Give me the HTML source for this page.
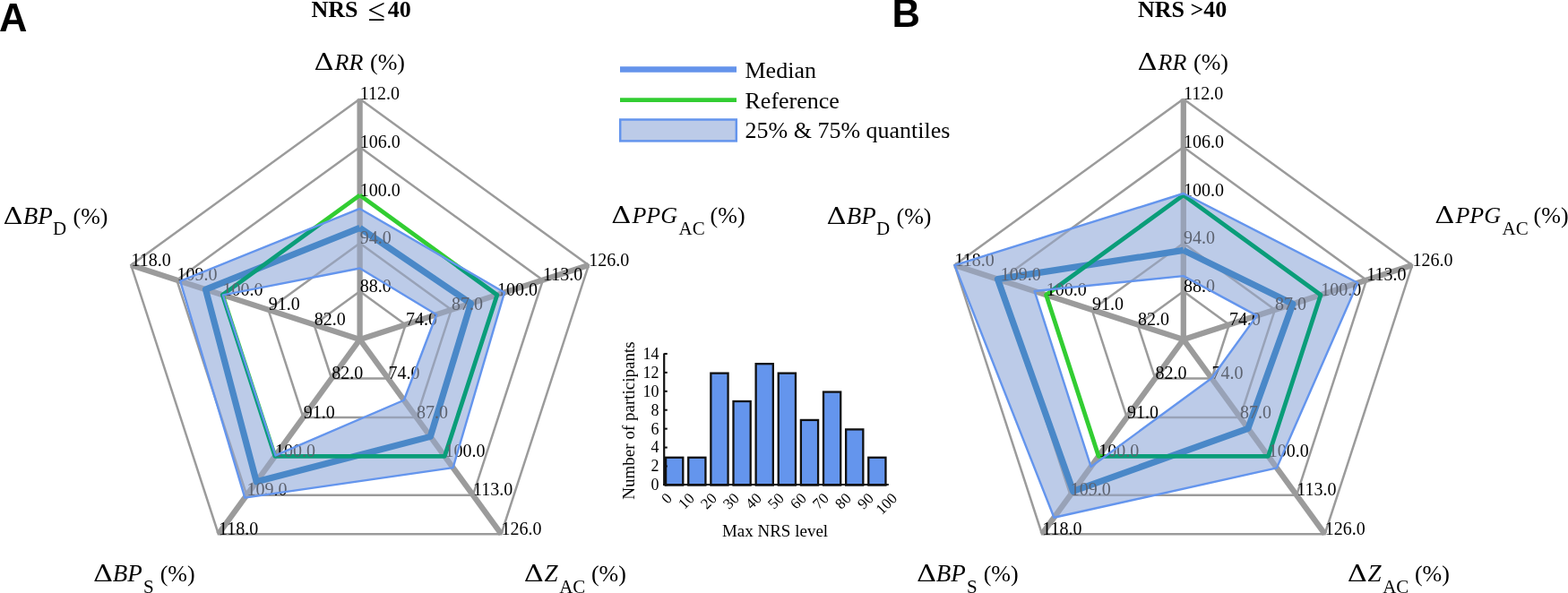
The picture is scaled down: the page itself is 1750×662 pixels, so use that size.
<!DOCTYPE html><html><head><meta charset="utf-8"><title>Figure</title><style>html,body{margin:0;padding:0;background:#fff;overflow:hidden}svg{display:block}</style></head><body>
<svg width="1750" height="662" viewBox="0 0 1750 662" font-family="'Liberation Serif', serif" fill="#000">
<rect width="1750" height="662" fill="#fff"/>
<defs><clipPath id="clipA"><path clip-rule="evenodd" d="M401.60 232.94 L562.99 326.56 L505.60 522.15 L273.29 555.60 L201.14 313.87 Z M401.60 299.52 L487.15 351.20 L450.84 446.77 L307.54 508.46 L248.90 329.38 Z"/></clipPath></defs>
<polyline points="401.60,325.30 452.67,362.41 433.16,422.44 370.04,422.44 350.53,362.41 401.60,325.30" fill="none" stroke="#9b9b9b" stroke-width="2.5" stroke-linejoin="miter"/>
<polyline points="401.60,271.60 503.74,345.81 464.73,465.89 338.47,465.89 299.46,345.81 401.60,271.60" fill="none" stroke="#9b9b9b" stroke-width="2.5" stroke-linejoin="miter"/>
<polyline points="401.60,217.90 554.82,329.22 496.29,509.33 306.91,509.33 248.38,329.22 401.60,217.90" fill="none" stroke="#9b9b9b" stroke-width="2.5" stroke-linejoin="miter"/>
<polyline points="401.60,164.20 605.89,312.62 527.86,552.78 275.34,552.78 197.31,312.62 401.60,164.20" fill="none" stroke="#9b9b9b" stroke-width="2.5" stroke-linejoin="miter"/>
<polyline points="401.60,110.50 656.96,296.03 559.42,596.22 243.78,596.22 146.24,296.03 401.60,110.50" fill="none" stroke="#9b9b9b" stroke-width="2.5" stroke-linejoin="miter"/>
<line x1="401.60" y1="379.00" x2="401.60" y2="110.50" stroke="#9b9b9b" stroke-width="6.3"/>
<line x1="401.60" y1="379.00" x2="656.96" y2="296.03" stroke="#9b9b9b" stroke-width="6.3"/>
<line x1="401.60" y1="379.00" x2="559.42" y2="596.22" stroke="#9b9b9b" stroke-width="6.3"/>
<line x1="401.60" y1="379.00" x2="243.78" y2="596.22" stroke="#9b9b9b" stroke-width="6.3"/>
<line x1="401.60" y1="379.00" x2="146.24" y2="296.03" stroke="#9b9b9b" stroke-width="6.3"/>
<polyline points="401.60,254.42 525.45,338.76 480.35,487.39 286.23,537.79 229.49,323.08 401.60,254.42" fill="none" stroke="#4a88c8" stroke-width="7.2" stroke-linejoin="round"/>
<polyline points="401.60,217.90 554.82,329.22 496.29,509.33 306.91,509.33 248.38,329.22 401.60,217.90" fill="none" stroke="#32cd32" stroke-width="4.8" stroke-linejoin="round"/>
<g font-size="20" fill="#000">
<text x="401.8" y="325.9">88.0</text>
<text x="401.8" y="272.2">94.0</text>
<text x="401.8" y="218.5">100.0</text>
<text x="401.8" y="164.8">106.0</text>
<text x="401.8" y="111.1">112.0</text>
<text x="452.9" y="363.0">74.0</text>
<text x="503.9" y="346.4">87.0</text>
<text x="555.0" y="329.8">100.0</text>
<text x="606.1" y="313.2">113.0</text>
<text x="657.2" y="296.6">126.0</text>
<text x="433.4" y="423.0">74.0</text>
<text x="464.9" y="466.5">87.0</text>
<text x="496.5" y="509.9">100.0</text>
<text x="528.1" y="553.4">113.0</text>
<text x="559.6" y="596.8">126.0</text>
<text x="370.2" y="423.0">82.0</text>
<text x="338.7" y="466.5">91.0</text>
<text x="307.1" y="509.9">100.0</text>
<text x="275.5" y="553.4">109.0</text>
<text x="244.0" y="596.8">118.0</text>
<text x="350.7" y="363.0">82.0</text>
<text x="299.7" y="346.4">91.0</text>
<text x="248.6" y="329.8">100.0</text>
<text x="197.5" y="313.2">109.0</text>
<text x="146.4" y="296.6">118.0</text>
</g>
<g clip-path="url(#clipA)">
<rect x="-48" y="0" width="900" height="662" fill="#bccbe8"/>
<polyline points="401.60,325.30 452.67,362.41 433.16,422.44 370.04,422.44 350.53,362.41 401.60,325.30" fill="none" stroke="#98a2b7" stroke-width="2.5" stroke-linejoin="miter"/>
<polyline points="401.60,271.60 503.74,345.81 464.73,465.89 338.47,465.89 299.46,345.81 401.60,271.60" fill="none" stroke="#98a2b7" stroke-width="2.5" stroke-linejoin="miter"/>
<polyline points="401.60,217.90 554.82,329.22 496.29,509.33 306.91,509.33 248.38,329.22 401.60,217.90" fill="none" stroke="#98a2b7" stroke-width="2.5" stroke-linejoin="miter"/>
<polyline points="401.60,164.20 605.89,312.62 527.86,552.78 275.34,552.78 197.31,312.62 401.60,164.20" fill="none" stroke="#98a2b7" stroke-width="2.5" stroke-linejoin="miter"/>
<polyline points="401.60,110.50 656.96,296.03 559.42,596.22 243.78,596.22 146.24,296.03 401.60,110.50" fill="none" stroke="#98a2b7" stroke-width="2.5" stroke-linejoin="miter"/>
<line x1="401.60" y1="379.00" x2="401.60" y2="110.50" stroke="#98a2b7" stroke-width="6.3"/>
<line x1="401.60" y1="379.00" x2="656.96" y2="296.03" stroke="#98a2b7" stroke-width="6.3"/>
<line x1="401.60" y1="379.00" x2="559.42" y2="596.22" stroke="#98a2b7" stroke-width="6.3"/>
<line x1="401.60" y1="379.00" x2="243.78" y2="596.22" stroke="#98a2b7" stroke-width="6.3"/>
<line x1="401.60" y1="379.00" x2="146.24" y2="296.03" stroke="#98a2b7" stroke-width="6.3"/>
<polyline points="401.60,254.42 525.45,338.76 480.35,487.39 286.23,537.79 229.49,323.08 401.60,254.42" fill="none" stroke="#4a88c8" stroke-width="7.2" stroke-linejoin="round"/>
<polyline points="401.60,217.90 554.82,329.22 496.29,509.33 306.91,509.33 248.38,329.22 401.60,217.90" fill="none" stroke="#0a9d79" stroke-width="4.8" stroke-linejoin="round"/>
<g font-size="20" fill="#5d6370">
<text x="401.8" y="325.9">88.0</text>
<text x="401.8" y="272.2">94.0</text>
<text x="401.8" y="218.5">100.0</text>
<text x="401.8" y="164.8">106.0</text>
<text x="401.8" y="111.1">112.0</text>
<text x="452.9" y="363.0">74.0</text>
<text x="503.9" y="346.4">87.0</text>
<text x="555.0" y="329.8">100.0</text>
<text x="606.1" y="313.2">113.0</text>
<text x="657.2" y="296.6">126.0</text>
<text x="433.4" y="423.0">74.0</text>
<text x="464.9" y="466.5">87.0</text>
<text x="496.5" y="509.9">100.0</text>
<text x="528.1" y="553.4">113.0</text>
<text x="559.6" y="596.8">126.0</text>
<text x="370.2" y="423.0">82.0</text>
<text x="338.7" y="466.5">91.0</text>
<text x="307.1" y="509.9">100.0</text>
<text x="275.5" y="553.4">109.0</text>
<text x="244.0" y="596.8">118.0</text>
<text x="350.7" y="363.0">82.0</text>
<text x="299.7" y="346.4">91.0</text>
<text x="248.6" y="329.8">100.0</text>
<text x="197.5" y="313.2">109.0</text>
<text x="146.4" y="296.6">118.0</text>
</g>
</g>
<polygon points="401.60,232.94 562.99,326.56 505.60,522.15 273.29,555.60 201.14,313.87" fill="none" stroke="#6495ed" stroke-width="2.4" stroke-linejoin="round"/>
<polygon points="401.60,299.52 487.15,351.20 450.84,446.77 307.54,508.46 248.90,329.38" fill="none" stroke="#6495ed" stroke-width="2.4" stroke-linejoin="round"/>
<defs><clipPath id="clipB"><path clip-rule="evenodd" d="M1320.80 216.02 L1515.38 315.78 L1424.96 522.37 L1176.39 577.76 L1065.44 296.03 Z M1320.80 308.12 L1402.77 352.37 L1352.21 422.23 L1217.59 521.06 L1154.56 324.99 Z"/></clipPath></defs>
<polyline points="1320.80,325.30 1371.87,362.41 1352.36,422.44 1289.24,422.44 1269.73,362.41 1320.80,325.30" fill="none" stroke="#9b9b9b" stroke-width="2.5" stroke-linejoin="miter"/>
<polyline points="1320.80,271.60 1422.94,345.81 1383.93,465.89 1257.67,465.89 1218.66,345.81 1320.80,271.60" fill="none" stroke="#9b9b9b" stroke-width="2.5" stroke-linejoin="miter"/>
<polyline points="1320.80,217.90 1474.02,329.22 1415.49,509.33 1226.11,509.33 1167.58,329.22 1320.80,217.90" fill="none" stroke="#9b9b9b" stroke-width="2.5" stroke-linejoin="miter"/>
<polyline points="1320.80,164.20 1525.09,312.62 1447.06,552.78 1194.54,552.78 1116.51,312.62 1320.80,164.20" fill="none" stroke="#9b9b9b" stroke-width="2.5" stroke-linejoin="miter"/>
<polyline points="1320.80,110.50 1576.16,296.03 1478.62,596.22 1162.98,596.22 1065.44,296.03 1320.80,110.50" fill="none" stroke="#9b9b9b" stroke-width="2.5" stroke-linejoin="miter"/>
<line x1="1320.80" y1="379.00" x2="1320.80" y2="110.50" stroke="#9b9b9b" stroke-width="6.3"/>
<line x1="1320.80" y1="379.00" x2="1576.16" y2="296.03" stroke="#9b9b9b" stroke-width="6.3"/>
<line x1="1320.80" y1="379.00" x2="1478.62" y2="596.22" stroke="#9b9b9b" stroke-width="6.3"/>
<line x1="1320.80" y1="379.00" x2="1162.98" y2="596.22" stroke="#9b9b9b" stroke-width="6.3"/>
<line x1="1320.80" y1="379.00" x2="1065.44" y2="296.03" stroke="#9b9b9b" stroke-width="6.3"/>
<polyline points="1320.80,279.39 1442.86,339.34 1392.92,478.27 1197.70,548.43 1113.45,311.63 1320.80,279.39" fill="none" stroke="#4a88c8" stroke-width="7.2" stroke-linejoin="round"/>
<polyline points="1320.80,217.90 1474.02,329.22 1415.49,509.33 1226.11,509.33 1167.58,329.22 1320.80,217.90" fill="none" stroke="#32cd32" stroke-width="4.8" stroke-linejoin="round"/>
<g font-size="20" fill="#000">
<text x="1321.0" y="325.9">88.0</text>
<text x="1321.0" y="272.2">94.0</text>
<text x="1321.0" y="218.5">100.0</text>
<text x="1321.0" y="164.8">106.0</text>
<text x="1321.0" y="111.1">112.0</text>
<text x="1372.1" y="363.0">74.0</text>
<text x="1423.1" y="346.4">87.0</text>
<text x="1474.2" y="329.8">100.0</text>
<text x="1525.3" y="313.2">113.0</text>
<text x="1576.4" y="296.6">126.0</text>
<text x="1352.6" y="423.0">74.0</text>
<text x="1384.1" y="466.5">87.0</text>
<text x="1415.7" y="509.9">100.0</text>
<text x="1447.3" y="553.4">113.0</text>
<text x="1478.8" y="596.8">126.0</text>
<text x="1289.4" y="423.0">82.0</text>
<text x="1257.9" y="466.5">91.0</text>
<text x="1226.3" y="509.9">100.0</text>
<text x="1194.7" y="553.4">109.0</text>
<text x="1163.2" y="596.8">118.0</text>
<text x="1269.9" y="363.0">82.0</text>
<text x="1218.9" y="346.4">91.0</text>
<text x="1167.8" y="329.8">100.0</text>
<text x="1116.7" y="313.2">109.0</text>
<text x="1065.6" y="296.6">118.0</text>
</g>
<g clip-path="url(#clipB)">
<rect x="870" y="0" width="900" height="662" fill="#bccbe8"/>
<polyline points="1320.80,325.30 1371.87,362.41 1352.36,422.44 1289.24,422.44 1269.73,362.41 1320.80,325.30" fill="none" stroke="#98a2b7" stroke-width="2.5" stroke-linejoin="miter"/>
<polyline points="1320.80,271.60 1422.94,345.81 1383.93,465.89 1257.67,465.89 1218.66,345.81 1320.80,271.60" fill="none" stroke="#98a2b7" stroke-width="2.5" stroke-linejoin="miter"/>
<polyline points="1320.80,217.90 1474.02,329.22 1415.49,509.33 1226.11,509.33 1167.58,329.22 1320.80,217.90" fill="none" stroke="#98a2b7" stroke-width="2.5" stroke-linejoin="miter"/>
<polyline points="1320.80,164.20 1525.09,312.62 1447.06,552.78 1194.54,552.78 1116.51,312.62 1320.80,164.20" fill="none" stroke="#98a2b7" stroke-width="2.5" stroke-linejoin="miter"/>
<polyline points="1320.80,110.50 1576.16,296.03 1478.62,596.22 1162.98,596.22 1065.44,296.03 1320.80,110.50" fill="none" stroke="#98a2b7" stroke-width="2.5" stroke-linejoin="miter"/>
<line x1="1320.80" y1="379.00" x2="1320.80" y2="110.50" stroke="#98a2b7" stroke-width="6.3"/>
<line x1="1320.80" y1="379.00" x2="1576.16" y2="296.03" stroke="#98a2b7" stroke-width="6.3"/>
<line x1="1320.80" y1="379.00" x2="1478.62" y2="596.22" stroke="#98a2b7" stroke-width="6.3"/>
<line x1="1320.80" y1="379.00" x2="1162.98" y2="596.22" stroke="#98a2b7" stroke-width="6.3"/>
<line x1="1320.80" y1="379.00" x2="1065.44" y2="296.03" stroke="#98a2b7" stroke-width="6.3"/>
<polyline points="1320.80,279.39 1442.86,339.34 1392.92,478.27 1197.70,548.43 1113.45,311.63 1320.80,279.39" fill="none" stroke="#4a88c8" stroke-width="7.2" stroke-linejoin="round"/>
<polyline points="1320.80,217.90 1474.02,329.22 1415.49,509.33 1226.11,509.33 1167.58,329.22 1320.80,217.90" fill="none" stroke="#0a9d79" stroke-width="4.8" stroke-linejoin="round"/>
<g font-size="20" fill="#5d6370">
<text x="1321.0" y="325.9">88.0</text>
<text x="1321.0" y="272.2">94.0</text>
<text x="1321.0" y="218.5">100.0</text>
<text x="1321.0" y="164.8">106.0</text>
<text x="1321.0" y="111.1">112.0</text>
<text x="1372.1" y="363.0">74.0</text>
<text x="1423.1" y="346.4">87.0</text>
<text x="1474.2" y="329.8">100.0</text>
<text x="1525.3" y="313.2">113.0</text>
<text x="1576.4" y="296.6">126.0</text>
<text x="1352.6" y="423.0">74.0</text>
<text x="1384.1" y="466.5">87.0</text>
<text x="1415.7" y="509.9">100.0</text>
<text x="1447.3" y="553.4">113.0</text>
<text x="1478.8" y="596.8">126.0</text>
<text x="1289.4" y="423.0">82.0</text>
<text x="1257.9" y="466.5">91.0</text>
<text x="1226.3" y="509.9">100.0</text>
<text x="1194.7" y="553.4">109.0</text>
<text x="1163.2" y="596.8">118.0</text>
<text x="1269.9" y="363.0">82.0</text>
<text x="1218.9" y="346.4">91.0</text>
<text x="1167.8" y="329.8">100.0</text>
<text x="1116.7" y="313.2">109.0</text>
<text x="1065.6" y="296.6">118.0</text>
</g>
</g>
<polygon points="1320.80,216.02 1515.38,315.78 1424.96,522.37 1176.39,577.76 1065.44,296.03" fill="none" stroke="#6495ed" stroke-width="2.4" stroke-linejoin="round"/>
<polygon points="1320.80,308.12 1402.77,352.37 1352.21,422.23 1217.59,521.06 1154.56,324.99" fill="none" stroke="#6495ed" stroke-width="2.4" stroke-linejoin="round"/>
<text x="350.6" y="77.5" font-family="DejaVu Serif" font-size="26" textLength="22.2" lengthAdjust="spacingAndGlyphs">&#916;</text>
<text x="373.5" y="77.5" font-size="26" font-style="italic">RR</text>
<text x="413.0" y="77.5" font-size="26">(%)</text>
<text x="682.2" y="249.3" font-family="DejaVu Serif" font-size="26" textLength="22.2" lengthAdjust="spacingAndGlyphs">&#916;</text>
<text x="705.4" y="249.3" font-size="26" font-style="italic">PPG</text>
<text x="757.5" y="262.3" font-size="21">AC</text>
<text x="792.6" y="249.3" font-size="26">(%)</text>
<text x="3.5" y="249.6" font-family="DejaVu Serif" font-size="26" textLength="22.2" lengthAdjust="spacingAndGlyphs">&#916;</text>
<text x="25.8" y="249.6" font-size="27" font-style="italic">BP</text>
<text x="59.0" y="262.4" font-size="21">D</text>
<text x="81.5" y="249.6" font-size="26">(%)</text>
<text x="103.9" y="648.6" font-family="DejaVu Serif" font-size="26" textLength="22.2" lengthAdjust="spacingAndGlyphs">&#916;</text>
<text x="125.7" y="648.6" font-size="27" font-style="italic">BP</text>
<text x="160.0" y="661.6" font-size="21">S</text>
<text x="178.7" y="648.6" font-size="26">(%)</text>
<text x="584.7" y="648.6" font-family="DejaVu Serif" font-size="26" textLength="22.2" lengthAdjust="spacingAndGlyphs">&#916;</text>
<text x="607.4" y="648.6" font-size="27" font-style="italic">Z</text>
<text x="624.2" y="661.6" font-size="21">AC</text>
<text x="659.9" y="648.6" font-size="26">(%)</text>
<text x="1269.6" y="77.5" font-family="DejaVu Serif" font-size="26" textLength="22.2" lengthAdjust="spacingAndGlyphs">&#916;</text>
<text x="1292.5" y="77.5" font-size="26" font-style="italic">RR</text>
<text x="1332.0" y="77.5" font-size="26">(%)</text>
<text x="1601.2" y="249.3" font-family="DejaVu Serif" font-size="26" textLength="22.2" lengthAdjust="spacingAndGlyphs">&#916;</text>
<text x="1624.4" y="249.3" font-size="26" font-style="italic">PPG</text>
<text x="1676.5" y="262.3" font-size="21">AC</text>
<text x="1711.6" y="249.3" font-size="26">(%)</text>
<text x="922.5" y="249.6" font-family="DejaVu Serif" font-size="26" textLength="22.2" lengthAdjust="spacingAndGlyphs">&#916;</text>
<text x="944.8" y="249.6" font-size="27" font-style="italic">BP</text>
<text x="978.0" y="262.4" font-size="21">D</text>
<text x="1000.5" y="249.6" font-size="26">(%)</text>
<text x="1022.9" y="648.6" font-family="DejaVu Serif" font-size="26" textLength="22.2" lengthAdjust="spacingAndGlyphs">&#916;</text>
<text x="1044.7" y="648.6" font-size="27" font-style="italic">BP</text>
<text x="1079.0" y="661.6" font-size="21">S</text>
<text x="1097.7" y="648.6" font-size="26">(%)</text>
<text x="1503.7" y="648.6" font-family="DejaVu Serif" font-size="26" textLength="22.2" lengthAdjust="spacingAndGlyphs">&#916;</text>
<text x="1526.4" y="648.6" font-size="27" font-style="italic">Z</text>
<text x="1543.2" y="661.6" font-size="21">AC</text>
<text x="1578.9" y="648.6" font-size="26">(%)</text>
<line x1="692" y1="77.5" x2="822" y2="77.5" stroke="#6493eb" stroke-width="6.7"/>
<line x1="692" y1="111.6" x2="822" y2="111.6" stroke="#32cd32" stroke-width="4.9"/>
<rect x="692.2" y="133.5" width="129.6" height="23.9" fill="#bccbe8" stroke="#6495ed" stroke-width="2.5"/>
<text x="831.5" y="87.4" font-size="26">Median</text>
<text x="831.5" y="120.7" font-size="26">Reference</text>
<text x="831.5" y="154.2" font-size="26">25% &amp; 75% quantiles</text>
<rect x="743.10" y="510.77" width="19.20" height="30.83" fill="#6495ed" stroke="#111" stroke-width="2.3"/>
<rect x="768.23" y="510.77" width="19.20" height="30.83" fill="#6495ed" stroke="#111" stroke-width="2.3"/>
<rect x="793.36" y="416.63" width="19.20" height="124.97" fill="#6495ed" stroke="#111" stroke-width="2.3"/>
<rect x="818.49" y="448.01" width="19.20" height="93.59" fill="#6495ed" stroke="#111" stroke-width="2.3"/>
<rect x="843.62" y="406.17" width="19.20" height="135.43" fill="#6495ed" stroke="#111" stroke-width="2.3"/>
<rect x="868.75" y="416.63" width="19.20" height="124.97" fill="#6495ed" stroke="#111" stroke-width="2.3"/>
<rect x="893.88" y="468.93" width="19.20" height="72.67" fill="#6495ed" stroke="#111" stroke-width="2.3"/>
<rect x="919.01" y="437.55" width="19.20" height="104.05" fill="#6495ed" stroke="#111" stroke-width="2.3"/>
<rect x="944.14" y="479.39" width="19.20" height="62.21" fill="#6495ed" stroke="#111" stroke-width="2.3"/>
<rect x="969.27" y="510.77" width="19.20" height="30.83" fill="#6495ed" stroke="#111" stroke-width="2.3"/>
<line x1="741.2" y1="394.5" x2="741.2" y2="542.1" stroke="#111" stroke-width="2.2"/>
<line x1="740.1" y1="541.0" x2="991.8" y2="541.0" stroke="#111" stroke-width="2.2"/>
<line x1="741.2" y1="541.40" x2="744.8" y2="541.40" stroke="#111" stroke-width="2"/>
<text x="735.6" y="547.30" font-size="18" text-anchor="end">0</text>
<line x1="741.2" y1="520.48" x2="744.8" y2="520.48" stroke="#111" stroke-width="2"/>
<text x="735.6" y="526.38" font-size="18" text-anchor="end">2</text>
<line x1="741.2" y1="499.56" x2="744.8" y2="499.56" stroke="#111" stroke-width="2"/>
<text x="735.6" y="505.46" font-size="18" text-anchor="end">4</text>
<line x1="741.2" y1="478.64" x2="744.8" y2="478.64" stroke="#111" stroke-width="2"/>
<text x="735.6" y="484.54" font-size="18" text-anchor="end">6</text>
<line x1="741.2" y1="457.72" x2="744.8" y2="457.72" stroke="#111" stroke-width="2"/>
<text x="735.6" y="463.62" font-size="18" text-anchor="end">8</text>
<line x1="741.2" y1="436.80" x2="744.8" y2="436.80" stroke="#111" stroke-width="2"/>
<text x="735.6" y="442.70" font-size="18" text-anchor="end">10</text>
<line x1="741.2" y1="415.88" x2="744.8" y2="415.88" stroke="#111" stroke-width="2"/>
<text x="735.6" y="421.78" font-size="18" text-anchor="end">12</text>
<line x1="741.2" y1="394.96" x2="744.8" y2="394.96" stroke="#111" stroke-width="2"/>
<text x="735.6" y="400.86" font-size="18" text-anchor="end">14</text>
<text x="750.9" y="557.3" font-size="17" text-anchor="end" transform="rotate(-45 750.9 557.3)">0</text>
<text x="775.9" y="557.3" font-size="17" text-anchor="end" transform="rotate(-45 775.9 557.3)">10</text>
<text x="800.9" y="557.3" font-size="17" text-anchor="end" transform="rotate(-45 800.9 557.3)">20</text>
<text x="825.9" y="557.3" font-size="17" text-anchor="end" transform="rotate(-45 825.9 557.3)">30</text>
<text x="850.9" y="557.3" font-size="17" text-anchor="end" transform="rotate(-45 850.9 557.3)">40</text>
<text x="875.9" y="557.3" font-size="17" text-anchor="end" transform="rotate(-45 875.9 557.3)">50</text>
<text x="900.9" y="557.3" font-size="17" text-anchor="end" transform="rotate(-45 900.9 557.3)">60</text>
<text x="925.9" y="557.3" font-size="17" text-anchor="end" transform="rotate(-45 925.9 557.3)">70</text>
<text x="950.9" y="557.3" font-size="17" text-anchor="end" transform="rotate(-45 950.9 557.3)">80</text>
<text x="975.9" y="557.3" font-size="17" text-anchor="end" transform="rotate(-45 975.9 557.3)">90</text>
<text x="1002.3" y="557.3" font-size="17" text-anchor="end" transform="rotate(-45 1002.3 557.3)">100</text>
<text x="865.0" y="598.8" font-size="19" text-anchor="middle">Max NRS level</text>
<text x="707.6" y="469.5" font-size="19" text-anchor="middle" transform="rotate(-90 707.6 469.5)">Number of participants</text>
<text x="-1.1" y="35" font-family="Liberation Sans" font-weight="bold" font-size="43.5">A</text>
<text x="995.6" y="29.8" font-family="Liberation Sans" font-weight="bold" font-size="43.5">B</text>
<text x="347.5" y="18.9" font-size="26" font-weight="bold">NRS</text>
<text x="410.5" y="22.6" font-size="35.5">&#8804;</text>
<text x="432.8" y="18.9" font-size="26" font-weight="bold">40</text>
<text x="1270" y="18.9" font-size="26" font-weight="bold">NRS &gt;40</text>
</svg></body></html>
